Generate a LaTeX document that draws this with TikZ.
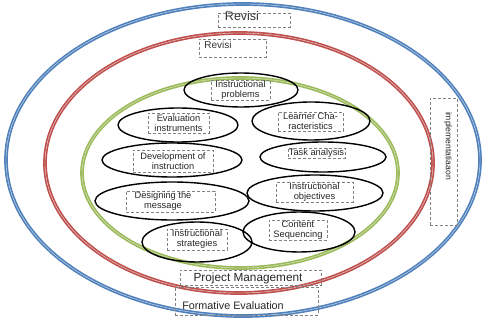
\documentclass[tikz,border=0pt]{standalone}
\usepackage{fontspec}
\setmainfont{Liberation Sans}
\usetikzlibrary{shapes.geometric}
\definecolor{ringblue}{HTML}{4F81BD}
\definecolor{ringred}{HTML}{C0504D}
\definecolor{ringgreen}{HTML}{9BBB59}
\begin{document}
\begin{tikzpicture}[x=1pt,y=-1pt,
  ring/.style={line width=1.7pt,double=white!85!gray,double distance=0.35pt},
  oval/.style={ellipse,draw=black,line width=1.4pt,inner sep=0pt},
  tbox/.style={draw=gray,densely dashed,line width=0.4pt,inner sep=0.5pt,align=center,
    font=\fontsize{9.3}{10}\selectfont,text=black!85},
  lbox/.style={draw=gray,densely dashed,line width=0.4pt,inner sep=0pt}]
\useasboundingbox (0,0) rectangle (483,323);
% rings
\draw[ring,draw=ringblue] (243,160) ellipse [x radius=237, y radius=156];
\draw[ring,draw=ringred] (239,163) ellipse [x radius=194, y radius=130];
\draw[ring,draw=ringgreen] (240,173) ellipse [x radius=158, y radius=95];
% ovals
\node[oval,minimum width=114pt,minimum height=34pt] (o1) at (241,90) {};
\node[oval,minimum width=120pt,minimum height=34pt] (o2) at (178,125) {};
\node[oval,minimum width=118pt,minimum height=38pt] (o3) at (311,121) {};
\node[oval,minimum width=140pt,minimum height=34pt] (o4) at (172,160) {};
\node[oval,minimum width=126pt,minimum height=30pt] (o5) at (323,157) {};
\node[oval,minimum width=154pt,minimum height=38pt] (o6) at (172,201) {};
\node[oval,minimum width=136pt,minimum height=36pt] (o7) at (315,193) {};
\node[oval,minimum width=110pt,minimum height=40pt] (o8) at (197,242) {};
\node[oval,minimum width=112pt,minimum height=40pt] (o9) at (299,232) {};
% text boxes
\node[tbox,minimum width=59pt,minimum height=18pt] (t1) at (240.5,90) {Instructional\\problems};
\node[tbox,minimum width=61pt,minimum height=20pt] (t2) at (178.5,123) {Evaluation\\instruments};
\node[tbox,minimum width=65pt,minimum height=19pt] (t3) at (310.5,121.5) {Learner Cha-\\racteristics};
\node[tbox,minimum width=80pt,minimum height=22pt] (t4) at (173,161) {Development of\\instruction};
\node[tbox,minimum width=57pt,minimum height=10pt] (t5) at (316.5,153) {Task analysis};
\node[tbox,minimum width=89pt,minimum height=21pt] (t6box) at (170.5,201.5) {};
\node[tbox,draw=none,anchor=center] (t6) at (163,201) {Designing the\\message};
\node[tbox,minimum width=77pt,minimum height=19pt] (t7) at (314.5,192.5) {Instructional\\objectives};
\node[tbox,minimum width=58pt,minimum height=20pt] (t8) at (298,230) {Content\\Sequencing};
\node[tbox,minimum width=60pt,minimum height=21pt] (t9) at (197,239.5) {Instructional\\strategies};
% ring labels
\node[lbox,minimum width=72pt,minimum height=14pt] (r1box) at (254,20) {};
\node[font=\fontsize{12.5}{13}\selectfont,text=black!80,inner sep=0pt] (r1) at (242,16) {Revisi};
\node[lbox,minimum width=67pt,minimum height=18pt] (r2box) at (232.5,48) {};
\node[font=\fontsize{10}{11}\selectfont,text=black!80,inner sep=0pt] (r2) at (218,45) {Revisi};
\node[lbox,minimum width=141pt,minimum height=15pt] (pmbox) at (250.5,277.5) {};
\node[font=\fontsize{11.8}{12}\selectfont,text=black!85,inner sep=0pt] (pm) at (248,278) {Project Management};
\node[lbox,minimum width=143pt,minimum height=28pt] (febox) at (246.5,301) {};
\node[font=\fontsize{10.8}{11}\selectfont,text=black!85,inner sep=0pt] (fe) at (233,306) {Formative Evaluation};
\node[lbox,minimum width=27pt,minimum height=127pt] (imbox) at (443.5,161.5) {};
\node[rotate=-90,font=\fontsize{8.6}{9}\selectfont,text=black!85,inner sep=0pt] (im) at (448,146) {implementatiaaon};
\end{tikzpicture}
\end{document}
